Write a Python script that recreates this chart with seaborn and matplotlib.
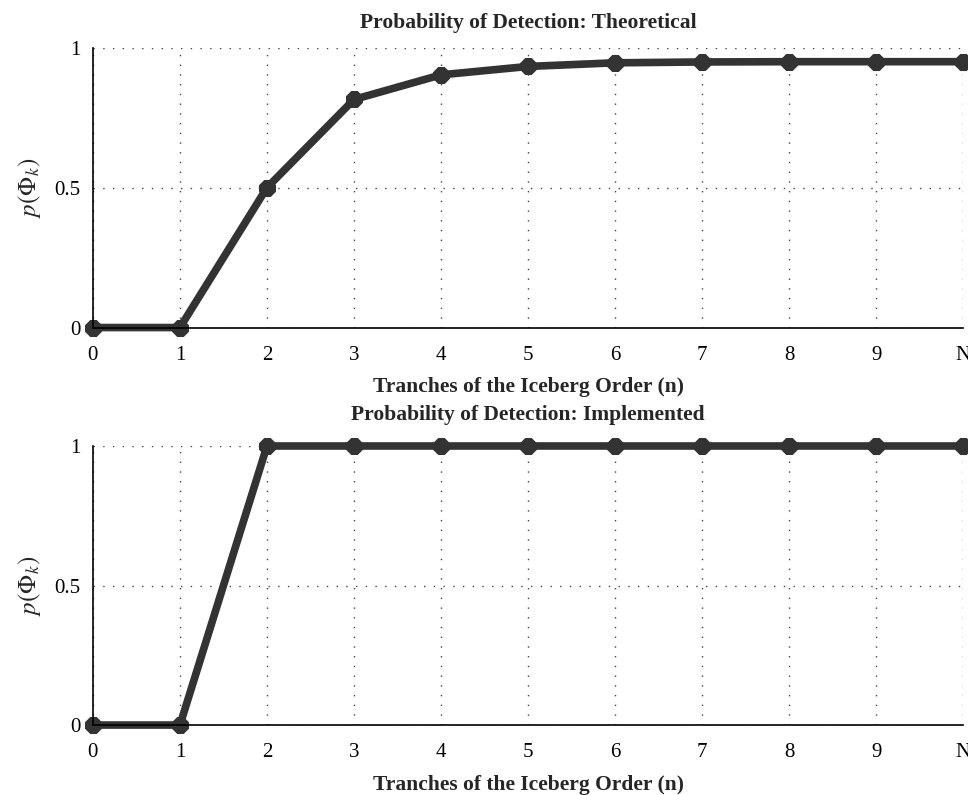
import numpy as np
import pandas as pd
import matplotlib
matplotlib.use("Agg")
import matplotlib.pyplot as plt
import seaborn as sns

# tranche index (last one drawn as "N")
tranches = [0, 1, 2, 3, 4, 5, 6, 7, 8, 9, 10]
tick_labels = ["0", "1", "2", "3", "4", "5", "6", "7", "8", "9", "N"]
p_theoretical = [0, 0, 0.5, 0.815, 0.903, 0.933, 0.946, 0.949, 0.95, 0.95, 0.95]
p_implemented = [0, 0, 1, 1, 1, 1, 1, 1, 1, 1, 1]
titles = ["Probability of Detection: Theoretical", "Probability of Detection: Implemented"]

sns.set_theme(style="white")
plt.rcParams["font.family"] = ["Liberation Serif", "DejaVu Serif"]
plt.rcParams["mathtext.fontset"] = "stix"

fig = plt.figure(figsize=(9.68, 7.95), dpi=100)
ax1 = fig.add_axes([0.096, 0.588, 0.899, 0.352])
ax2 = fig.add_axes([0.096, 0.088, 0.899, 0.351])

for ax, vals, title, tpad in zip([ax1, ax2], [p_theoretical, p_implemented], titles, [14, 19]):
    df = pd.DataFrame({"n": tranches, "p": vals})
    sns.lineplot(data=df, x="n", y="p", ax=ax, color="#333333", linewidth=5.5,
                 marker="8", markersize=13, markeredgecolor="#333333", clip_on=False)
    ax.set_xlim(0, 10)
    ax.set_ylim(0, 1)
    ax.set_xticks(tranches)
    ax.set_xticklabels(tick_labels)
    ax.set_yticks([0, 0.5, 1])
    ax.set_yticklabels(["0", "0.5", "1"])
    ax.grid(True, linestyle=(0, (1, 6)), color="#444444", linewidth=1)
    for side in ["top", "right"]:
        ax.spines[side].set_visible(False)
    for side in ["left", "bottom"]:
        ax.spines[side].set_color("black")
        ax.spines[side].set_linewidth(1.2)
    ax.tick_params(axis="x", pad=13)
    ax.tick_params(axis="y", pad=9)
    ax.tick_params(direction="in", length=7, width=1.8, labelsize=15, colors="black")
    ax.set_title(title, fontsize=15.5, fontweight="bold", pad=tpad)
    ax.set_xlabel("Tranches of the Iceberg Order (n)", fontsize=15.5, fontweight="bold", labelpad=9)
    ax.set_ylabel(r"$p(\Phi_k)$", fontsize=18, labelpad=8)

plt.savefig("out.png", dpi=100)
